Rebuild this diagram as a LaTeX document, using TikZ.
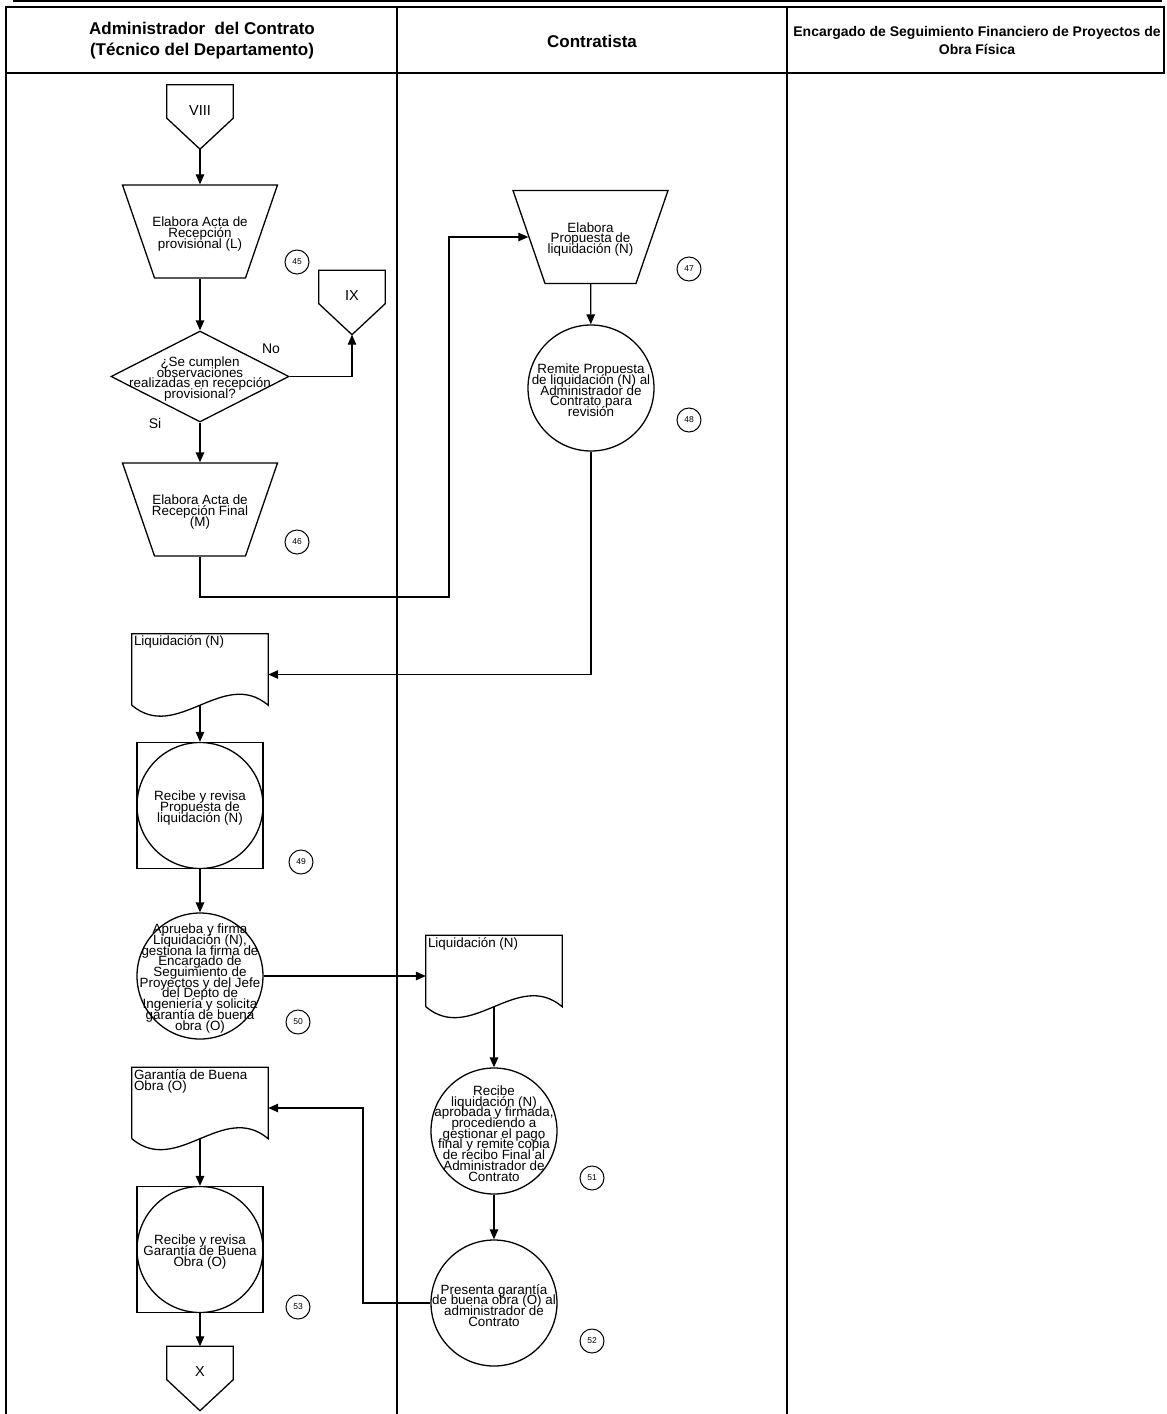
\documentclass[tikz,border=0pt]{standalone}
\usepackage{fontspec}
\setmainfont{Liberation Sans}
\usetikzlibrary{shapes.geometric,arrows.meta}

\begin{document}
\begin{tikzpicture}[x=1pt,y=-1pt]
	% Estilos
	\def\Cuerpo{\fontsize{13.4}{10.7}\selectfont}
	\tikzstyle{every node}=[font=\Cuerpo]
	\tikzstyle{forma}=[line width=1.3pt]
	\tikzstyle{flecha}=[->,>={Triangle[length=10pt,width=8.5pt]},line width=1.3pt]
	\tikzstyle{marco}=[line width=1.5pt]
	\tikzstyle{titulo}=[font=\bfseries\fontsize{17}{21}\selectfont,align=center]
	\tikzstyle{titulochico}=[font=\bfseries\fontsize{14}{18}\selectfont,align=center]
	\tikzstyle{actividad}=[circle,draw,forma,minimum size=126pt,inner sep=0pt]
	\tikzstyle{revision}=[rectangle,draw,forma,minimum size=126pt,inner sep=0pt,
		path picture={\draw[forma] (path picture bounding box.center) circle (63pt);}]
	\tikzstyle{registro}=[trapezium,draw,forma,trapezium left angle=71,trapezium right angle=71,
		shape border rotate=180,trapezium stretches body,minimum width=155pt,minimum height=93pt,inner sep=0pt]
	\tikzstyle{decision}=[diamond,draw,forma,minimum width=178pt,minimum height=91pt,inner sep=0pt]
	\tikzstyle{documento}=[rectangle,minimum width=136pt,minimum height=81pt,inner sep=2pt]
	\tikzstyle{conector}=[rectangle,minimum width=66pt,minimum height=33pt,inner sep=0pt,font=\fontsize{14.5}{15}\selectfont]
	\tikzstyle{numero}=[circle,draw,line width=1pt,minimum size=24pt,inner sep=0pt,font=\fontsize{8.5}{9}\selectfont]
	\tikzstyle{respuesta}=[font=\fontsize{14}{15}\selectfont]
	% Macros
	\def\Texto#1{\smash{\makebox[0pt]{\raisebox{-6pt}{\parbox[c]{300pt}{\lineskiplimit=-100pt\baselineskip=10.7pt\centering #1}}}}}
	\def\Alto{\rule[-46.5pt]{0pt}{93pt}}
	\def\Conector#1#2#3{%
		\node[conector] (#1) at (#2) {\smash{\raisebox{-13.5pt}{#3}}};
		\coordinate (#1p) at ([yshift=-31pt]#1.south);
		\draw[forma] (#1.south west) -- (#1.north west) -- (#1.north east) -- (#1.south east) -- (#1p) -- cycle;}
	\def\Documento#1#2#3{%
		\node[documento] (#1) at (#2) {\parbox[c][77pt][t]{132pt}{\lineskiplimit=-100pt\baselineskip=10.7pt\raggedright #3}};
		\coordinate (#1b) at ([yshift=10pt]#1.south);
		\draw[forma] (#1b -| #1.west) -- (#1.north west) -- (#1.north east) -- (#1b -| #1.east)
			.. controls +(-45pt,38pt) and +(45pt,-38pt) .. (#1b -| #1.west);}
	\useasboundingbox (0,0) rectangle (1167,1414);
	% Encabezado y carriles
	\draw[line width=2pt] (13,1) -- (1162,1);
	\draw[marco] (6,7) rectangle (1164,73);
	\draw[marco] (6,73) -- (6,1414);
	\draw[marco] (397,7) -- (397,1414);
	\draw[marco] (787,7) -- (787,1414);
	\node[titulo] (adm) at (202,41) {Administrador\ \ del Contrato\\(Técnico del Departamento)};
	\node[titulo] (contratista) at (592,41) {Contratista};
	\node[titulochico] (encargado) at (977,40) {Encargado de Seguimiento Financiero de Proyectos de\\Obra Física};
	% Nodos
	\Conector{VIII}{200,101.5}{VIII}
	\node[registro] (actaL) at (200,231.5) {\Texto{Elabora Acta de\\Recepción\\provisional (L)}\Alto};
	\node[numero] (n45) at (297,262) {45};
	\Conector{IX}{352,287}{IX}
	\node[decision] (cumple) at (200,376.5) {\Texto{¿Se cumplen\\observaciones\\realizadas en recepción\\provisional?}};
	\node[respuesta] (no) at (271,349) {No};
	\node[respuesta] (si) at (155,423) {Si};
	\node[registro] (actaM) at (200,509.5) {\Texto{Elabora Acta de\\Recepción Final\\(M)}\Alto};
	\node[numero] (n46) at (297,542) {46};
	\coordinate (codoA) at (449,597);
	\node[registro] (propuesta) at (590.5,237) {\Texto{Elabora\\Propuesta de\\liquidación (N)}\Alto};
	\node[numero] (n47) at (689,269) {47};
	\node[actividad] (remite) at (591,388) {\Texto{Remite Propuesta\\de liquidación (N) al\\Administrador de\\Contrato para\\revisión}};
	\node[numero] (n48) at (689,420) {48};
	\Documento{liqA}{200,674.5}{Liquidación (N)}
	\node[revision] (revisaN) at (200,805.5) {\Texto{Recibe y revisa\\Propuesta de\\liquidación (N)}};
	\node[numero] (n49) at (301,862) {49};
	\node[actividad] (aprueba) at (200,976) {\Texto{Aprueba y firma\\Liquidación (N),\\gestiona la firma de\\Encargado de\\Seguimiento de\\Proyectos y del Jefe\\del Depto de\\Ingeniería y solicita\\garantía de buena\\obra (O)}};
	\node[numero] (n50) at (298,1022) {50};
	\Documento{liqB}{494,976}{Liquidación (N)}
	\node[actividad] (recibe) at (494,1131) {\Texto{Recibe\\liquidación (N)\\aprobada y firmada,\\procediendo a\\gestionar el pago\\final y remite copia\\de recibo Final al\\Administrador de\\Contrato}};
	\node[numero] (n51) at (592,1178) {51};
	\node[actividad] (presenta) at (494,1303) {\Texto{Presenta garantía\\de buena obra (O) al\\administrador de\\Contrato}};
	\node[numero] (n52) at (592,1341) {52};
	\Documento{garantia}{200,1108}{Garantía de Buena\\Obra (O)}
	\coordinate (codoB) at (363,1108);
	\node[revision] (revisaO) at (200,1249.5) {\Texto{Recibe y revisa\\Garantía de Buena\\Obra (O)}};
	\node[numero] (n53) at (298,1307) {53};
	\Conector{X}{200,1363}{X}
	% Arcos
	\draw[flecha] (VIIIp) -- (actaL);
	\draw[flecha] (actaL) -- (cumple);
	\draw[flecha] (cumple) -| (IXp);
	\draw[flecha] (cumple) -- (actaM);
	\draw[flecha] (actaM) |- (codoA) |- (propuesta);
	\draw[flecha] (propuesta) -- (remite);
	\draw[flecha] (remite) |- (liqA);
	\draw[flecha] (liqAb) -- (revisaN);
	\draw[flecha] (revisaN) -- (aprueba);
	\draw[flecha] (aprueba) -- (liqB);
	\draw[flecha] (liqBb) -- (recibe);
	\draw[flecha] (recibe) -- (presenta);
	\draw[flecha] (presenta) -| (codoB) -- (garantia);
	\draw[flecha] (garantiab) -- (revisaO);
	\draw[flecha] (revisaO) -- (X);
\end{tikzpicture}
\end{document}
